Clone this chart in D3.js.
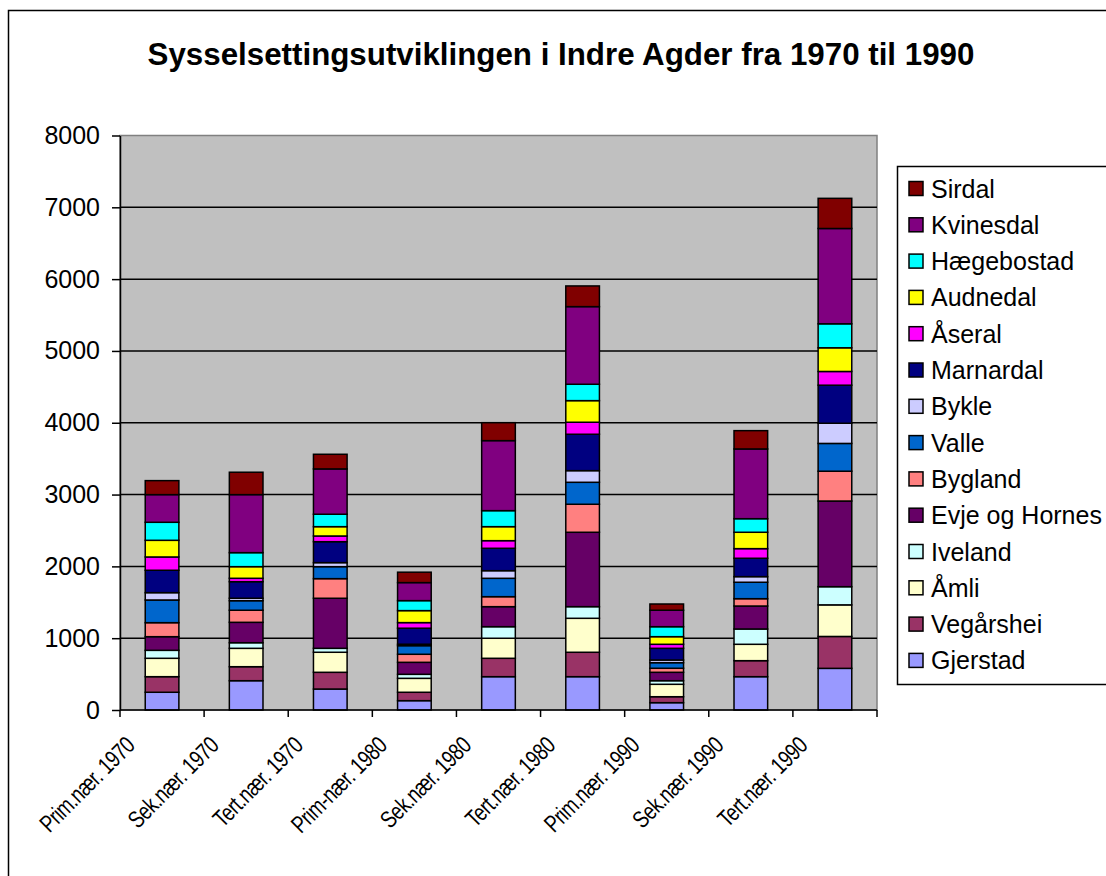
<!DOCTYPE html>
<html>
<head>
<meta charset="utf-8">
<script src="https://cdn.jsdelivr.net/npm/d3@7"></script>
<style>
  body { margin: 0; background: #fff; }
  svg { display: block; font-family: "Liberation Sans", Arial, sans-serif; }
</style>
</head>
<body>
<div id="chart"></div>
<script>
// categories on the x axis
const categories = ["Prim.nær. 1970", "Sek.nær. 1970", "Tert.nær. 1970", "Prim-nær. 1980", "Sek.nær. 1980",
  "Tert.nær. 1980", "Prim.nær. 1990", "Sek.nær. 1990", "Tert.nær. 1990"];

// employees per municipality, one value per category (bottom of stack first)
const gjerstad = [247, 408, 292, 130, 464, 464, 102, 464, 580];
const vegarshei = [217, 195, 233, 117, 256, 340, 83, 223, 444];
const amli = [256, 256, 279, 194, 279, 473, 173, 228, 440];
const iveland = [111, 78, 55, 56, 161, 162, 50, 213, 253];
const evje = [190, 284, 697, 167, 279, 1036, 117, 320, 1193];
const bygland = [195, 168, 273, 112, 139, 390, 56, 102, 415];
const valle = [316, 133, 167, 120, 256, 306, 78, 229, 387];
const bykle = [102, 34, 56, 20, 106, 162, 37, 78, 281];
const marnardal = [312, 231, 292, 223, 312, 507, 163, 256, 530];
const aseral = [185, 47, 79, 78, 106, 167, 56, 134, 191];
const audnedal = [232, 162, 130, 167, 195, 301, 106, 228, 330];
const haegebostad = [251, 195, 173, 139, 223, 228, 139, 189, 334];
const kvinesdal = [385, 808, 631, 251, 975, 1081, 229, 971, 1327];
const sirdal = [195, 312, 204, 145, 250, 288, 87, 255, 420];

const seriesNames = ["Gjerstad", "Vegårshei", "Åmli", "Iveland", "Evje og Hornes", "Bygland", "Valle",
  "Bykle", "Marnardal", "Åseral", "Audnedal", "Hægebostad", "Kvinesdal", "Sirdal"];
const seriesValues = [gjerstad, vegarshei, amli, iveland, evje, bygland, valle,
  bykle, marnardal, aseral, audnedal, haegebostad, kvinesdal, sirdal];
const seriesColors = ["#9999FF", "#993366", "#FFFFCC", "#CCFFFF", "#660066", "#FF8080", "#0066CC",
  "#CCCCFF", "#000080", "#FF00FF", "#FFFF00", "#00FFFF", "#800080", "#800000"];

const yTicks = [0, 1000, 2000, 3000, 4000, 5000, 6000, 7000, 8000];
const title = "Sysselsettingsutviklingen i Indre Agder fra 1970 til 1990";

const W = 1106, H = 876;
const plot = { left: 120, right: 877, top: 135.5, bottom: 710 };

const svg = d3.select("#chart").append("svg")
  .attr("width", W)
  .attr("height", H);

// outer chart frame (runs past the window on the right and bottom)
svg.append("rect")
  .attr("x", 8.5).attr("y", 10.5)
  .attr("width", 1200).attr("height", 900)
  .attr("fill", "#fff")
  .attr("stroke", "#000")
  .attr("stroke-width", 1.5);

svg.append("text")
  .attr("x", 561).attr("y", 65)
  .attr("text-anchor", "middle")
  .attr("font-weight", "bold")
  .attr("font-size", "31.3px")
  .text(title);

// table for the stack
const table = categories.map((c, i) => {
  const row = { cat: c };
  seriesNames.forEach((s, j) => { row[s] = seriesValues[j][i]; });
  return row;
});
const stacked = d3.stack().keys(seriesNames)(table);

const x = d3.scaleBand().domain(categories)
  .range([plot.left, plot.right])
  .paddingInner(0.6).paddingOuter(0.3);
const y = d3.scaleLinear().domain([0, 8000]).range([plot.bottom, plot.top]);
const color = d3.scaleOrdinal().domain(seriesNames).range(seriesColors);

// plot area
svg.append("rect")
  .attr("x", plot.left).attr("y", plot.top)
  .attr("width", plot.right - plot.left).attr("height", plot.bottom - plot.top)
  .attr("fill", "#C0C0C0")
  .attr("stroke", "#808080")
  .attr("stroke-width", 1.5);

// gridlines
svg.append("g")
  .selectAll("line")
  .data(yTicks.filter(t => t > 0 && t < 8000))
  .enter().append("line")
  .attr("x1", plot.left).attr("x2", plot.right)
  .attr("y1", d => y(d)).attr("y2", d => y(d))
  .attr("stroke", "#000")
  .attr("stroke-width", 1.5);

// bars
svg.append("g")
  .selectAll("g")
  .data(stacked)
  .enter().append("g")
  .attr("fill", d => color(d.key))
  .selectAll("rect")
  .data(d => d)
  .enter().append("rect")
  .attr("x", d => x(d.data.cat))
  .attr("y", d => y(d[1]))
  .attr("width", x.bandwidth())
  .attr("height", d => y(d[0]) - y(d[1]))
  .attr("stroke", "#000")
  .attr("stroke-width", 1.5);

// y axis
const yAxis = svg.append("g")
  .attr("transform", `translate(${plot.left},0)`)
  .call(d3.axisLeft(y).tickValues(yTicks).tickFormat(d3.format("d"))
    .tickSize(8).tickPadding(12).tickSizeOuter(0));
yAxis.select(".domain").attr("stroke-width", 1.5);
yAxis.selectAll(".tick line").attr("stroke-width", 1.5);
yAxis.selectAll("text")
  .attr("font-family", "Liberation Sans, Arial, sans-serif")
  .attr("font-size", "25px")
  .attr("fill", "#000");

// x axis line with category boundary ticks
const xg = svg.append("g");
xg.append("line")
  .attr("x1", plot.left).attr("x2", plot.right)
  .attr("y1", plot.bottom).attr("y2", plot.bottom)
  .attr("stroke", "#000").attr("stroke-width", 1.5);
xg.selectAll("line.tick")
  .data(d3.range(categories.length + 1))
  .enter().append("line")
  .attr("class", "tick")
  .attr("x1", i => plot.left + i * x.step())
  .attr("x2", i => plot.left + i * x.step())
  .attr("y1", plot.bottom).attr("y2", plot.bottom + 7)
  .attr("stroke", "#000").attr("stroke-width", 1.5);

xg.selectAll("text")
  .data(categories)
  .enter().append("text")
  .attr("text-anchor", "end")
  .attr("font-size", "24px")
  .attr("letter-spacing", "-0.5px")
  .attr("transform", d => `translate(${x(d) + x.bandwidth() / 2 - 26},747) rotate(-45) scale(0.78,1)`)
  .text(d => d);

// legend
const lg = svg.append("g");
lg.append("rect")
  .attr("x", 897.5).attr("y", 166.5)
  .attr("width", 300).attr("height", 518)
  .attr("fill", "#fff")
  .attr("stroke", "#000")
  .attr("stroke-width", 1.5);

const legendItems = seriesNames.slice().reverse();
const item = lg.selectAll("g.item")
  .data(legendItems)
  .enter().append("g")
  .attr("class", "item")
  .attr("transform", (d, i) => `translate(0,${188.5 + i * 36.3})`);
item.append("rect")
  .attr("x", 909).attr("y", -7)
  .attr("width", 14).attr("height", 14)
  .attr("fill", d => color(d))
  .attr("stroke", "#000")
  .attr("stroke-width", 1.5);
item.append("text")
  .attr("x", 931).attr("y", 9)
  .attr("font-size", "25px")
  .text(d => d);
</script>
</body>
</html>
